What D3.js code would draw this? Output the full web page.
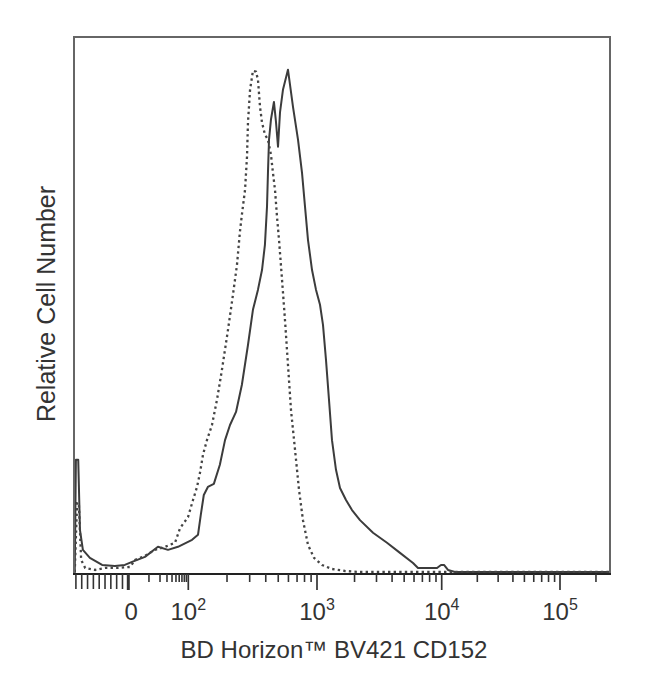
<!DOCTYPE html>
<html><head><meta charset="utf-8">
<script src="https://cdn.jsdelivr.net/npm/d3@7"></script>
<style>
html,body{margin:0;padding:0;background:#fff;}
svg{display:block;}
text{font-family:"Liberation Sans",Arial,sans-serif;fill:#333;}
</style>
</head><body>
<svg id="c" width="650" height="697"></svg>
<script>
// CD152 stained (solid) histogram: fluorescence intensity vs % of max
const solidX = [-92, -90, -86, -83, -78, -66, -45, -23, -6, 1.5, 7.5, 17.7, 31.8, 56, 107, 119, 125, 132, 142, 158, 176, 193, 211, 235, 261, 291, 318, 348, 374, 394, 409, 416, 424, 439, 463, 480, 498, 516, 544, 595, 651, 712, 765, 807, 851, 915, 982, 1057, 1117, 1181, 1248, 1319, 1420, 1529, 1708, 1909, 2212, 2813, 3642, 4630, 5888, 6456, 9169, 9872, 10460, 11300, 12960, 262144];
const solidY = [0, 22.5, 22.5, 8.5, 4.6, 3.0, 1.6, 1.4, 1.6, 2.2, 3.2, 5.2, 4.6, 5.2, 6.6, 7.6, 11.5, 15.5, 17.1, 17.7, 21.5, 26.4, 29.4, 32.0, 37.4, 45.3, 52.3, 56.3, 60.2, 65.2, 72.8, 79.5, 86.1, 90.1, 93.6, 89.7, 84.7, 91.5, 96.0, 100, 92.6, 86.1, 79.5, 72.8, 66.2, 60.2, 56.3, 53.3, 49.3, 42.3, 34.4, 26.4, 20.5, 16.9, 14.5, 12.5, 10.5, 8.0, 6.0, 4.0, 2.0, 1.0, 1.0, 1.6, 1.6, 0.6, 0.2, 0.2];
// Isotype control (dashed) histogram
const dashedX = [-92, -88, -85, -81, -74, -57, -40, -18, 0.7, 2.7, 7.5, 14.8, 26.8, 47.4, 62.8, 98.3, 108.8, 116.9, 123.3, 130.1, 139.7, 152.8, 167.1, 182.7, 203.5, 222.5, 239, 252, 261, 276, 286, 291, 302, 318, 336, 348, 361, 374, 394.5, 416, 439, 455, 472, 489, 507, 535, 564, 595, 628, 675, 725, 778, 851, 948, 1097, 1319, 1677, 2212, 262144];
const dashedY = [0.2, 13.9, 13.9, 2.6, 1.0, 0.6, 1.0, 1.0, 1.2, 2.6, 3.4, 4.6, 5.2, 6.0, 8.9, 11.1, 14.5, 17.1, 19.9, 23.5, 26.4, 29.4, 34.4, 40.4, 48.3, 55.3, 61.2, 67.8, 71.2, 76.1, 82.7, 89.5, 96.0, 99.8, 99.6, 98.0, 92.6, 89.5, 87.1, 86.1, 83.1, 79.5, 76.1, 70.8, 66.2, 58.3, 50.3, 41.4, 32.4, 24.5, 16.5, 10.5, 5.6, 3.0, 1.6, 0.8, 0.4, 0.2, 0.2];

const majorTicks = [0, 100, 1000, 10000, 100000];
const tickBase = ["0", "10", "10", "10", "10"];
const tickExp = ["", "2", "3", "4", "5"];
const xTitle = "BD Horizon\u2122 BV421 CD152";
const yTitle = "Relative Cell Number";
const xMin = -95, xMax = 262144, yMax = 106.5;

const L = 74, T = 37, R = 610, B = 574;
const svg = d3.select("#c");

// biexponential-like display transform
const tr = v => v >= 0 ? Math.asinh(v / 7) / Math.LN10 : v / (7 * Math.LN10);
const xLin = d3.scaleLinear()
  .domain([xMin, 0, 100, 1e3, 1e4, 1e5, xMax].map(tr))
  .range([73, 128.3, 188.3, 317, 441.7, 560, 610]);
const x = v => xLin(tr(v));
const y = d3.scaleLinear().domain([0, yMax]).range([573, 37]);

svg.append("clipPath").attr("id", "clip").append("rect")
  .attr("x", L).attr("y", T).attr("width", R - L).attr("height", B - T + 1);

const line = d3.line().x(d => x(d[0])).y(d => y(d[1]));

const g = svg.append("g").attr("clip-path", "url(#clip)");
g.append("path").datum(d3.zip(solidX, solidY))
  .attr("d", line).attr("fill", "none").attr("stroke", "#3c3c3c")
  .attr("stroke-width", 2).attr("stroke-linejoin", "round");
g.append("path").datum(d3.zip(dashedX, dashedY))
  .attr("d", line).attr("fill", "none").attr("stroke", "#444")
  .attr("stroke-width", 2.3).attr("stroke-dasharray", "2.4,3.2");

// frame
svg.append("path").attr("d", `M${L},${B}V${T}H${R}V${B}`)
  .attr("fill", "none").attr("stroke", "#666").attr("stroke-width", 2);
svg.append("line").attr("x1", L - 1).attr("x2", R + 1).attr("y1", B).attr("y2", B)
  .attr("stroke", "#222").attr("stroke-width", 2);

// ticks
const negTicks = d3.range(-90, 0, 10);
const minorTicks = d3.range(10, 100, 10)
  .concat(...[100, 1000, 10000].map(b => d3.range(2, 10).map(m => m * b)), [200000]);
const tickG = svg.append("g").attr("stroke", "#333");
tickG.selectAll(".neg").data(negTicks).join("line")
  .attr("x1", d => x(d)).attr("x2", d => x(d)).attr("y1", B).attr("y2", B + 15).attr("stroke-width", 1.6);
tickG.selectAll(".min").data(minorTicks).join("line")
  .attr("x1", d => x(d)).attr("x2", d => x(d)).attr("y1", B).attr("y2", B + 8).attr("stroke-width", 1.6);
tickG.selectAll(".maj").data(majorTicks).join("line")
  .attr("x1", d => x(d)).attr("x2", d => x(d)).attr("y1", B).attr("y2", B + 16)
  .attr("stroke-width", d => d === 0 ? 3 : 1.7);

// tick labels
const lab = svg.selectAll(".tl").data(majorTicks).join("text")
  .attr("x", (d, i) => x(d) + (i === 0 ? 3 : 0)).attr("y", 620)
  .attr("text-anchor", "middle").attr("font-size", 24);
lab.append("tspan").text((d, i) => tickBase[i]);
lab.append("tspan").attr("font-size", 16).attr("dy", -10).text((d, i) => tickExp[i]);

// axis titles
svg.append("text").attr("x", 334).attr("y", 658).attr("text-anchor", "middle")
  .attr("font-size", 24).text(xTitle);
svg.append("text").attr("transform", "translate(55,304) rotate(-90)")
  .attr("text-anchor", "middle").attr("font-size", 25).text(yTitle);
</script>
</body></html>
